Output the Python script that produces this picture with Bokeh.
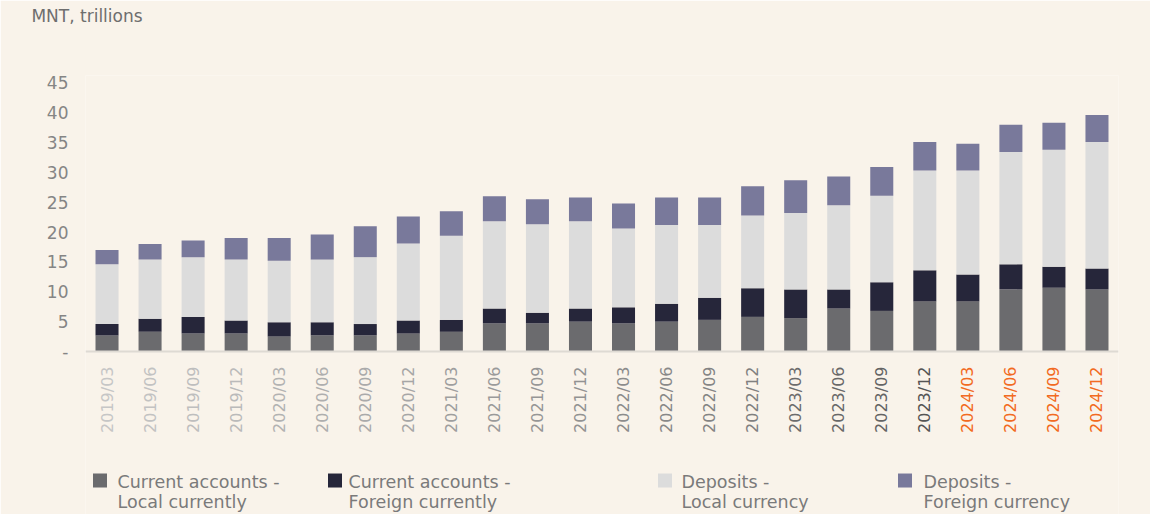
from bokeh.plotting import figure
from bokeh.models import Range1d, FixedTicker, Span, ColumnDataSource, LinearAxis
from bokeh.core.properties import value
from bokeh.embed import file_html
from bokeh.resources import INLINE
import math

periods = ["2019/03", "2019/06", "2019/09", "2019/12",
           "2020/03", "2020/06", "2020/09", "2020/12",
           "2021/03", "2021/06", "2021/09", "2021/12",
           "2022/03", "2022/06", "2022/09", "2022/12",
           "2023/03", "2023/06", "2023/09", "2023/12",
           "2024/03", "2024/06", "2024/09", "2024/12"]

current_local = [2.7, 3.3, 3.0, 3.0, 2.5, 2.7, 2.7, 3.0, 3.3, 4.7, 4.7, 5.0,
                 4.7, 5.0, 5.3, 5.8, 5.6, 7.2, 6.8, 8.4, 8.4, 10.4, 10.7, 10.4]
current_foreign = [1.9, 2.2, 2.8, 2.2, 2.4, 2.2, 1.9, 2.2, 2.0, 2.5, 1.8, 2.2,
                   2.7, 3.0, 3.7, 4.8, 4.8, 3.2, 4.8, 5.2, 4.5, 4.2, 3.5, 3.5]
deposits_local = [10.0, 9.9, 10.0, 10.2, 10.3, 10.5, 11.2, 12.9, 14.1, 14.6, 14.8, 14.6,
                  13.2, 13.2, 12.2, 12.2, 12.8, 14.1, 14.5, 16.7, 17.4, 18.8, 19.6, 21.2]
deposits_foreign = [2.4, 2.6, 2.8, 3.6, 3.8, 4.2, 5.2, 4.5, 4.1, 4.2, 4.2, 4.0,
                    4.2, 4.6, 4.6, 4.9, 5.5, 4.8, 4.8, 4.8, 4.5, 4.6, 4.5, 4.5]

label_colors = ["#c6c6c6", "#c2c2c2", "#bebebe", "#bababa",
                "#b2b2b2", "#aeaeae", "#aaaaaa", "#a6a6a6",
                "#9e9e9e", "#9a9a9a", "#969696", "#929292",
                "#8c8c8c", "#888888", "#848484", "#808080",
                "#6c6c6c", "#686868", "#646464", "#555555",
                "#f26a21", "#f26a21", "#f26a21", "#f26a21"]

series_names = ["current_local", "current_foreign", "deposits_local", "deposits_foreign"]
series_colors = ["#6b6b6e", "#26263a", "#dcdcdc", "#79799b"]
legend_line1 = ["Current accounts -", "Current accounts -", "Deposits -", "Deposits -"]
legend_line2 = ["Local currently", "Foreign currently", "Local currency", "Foreign currency"]
unit_title = "MNT, trillions"

BG = "#f9f3ea"
FONT = "DejaVu Sans"

# layout geometry (page pixels) -> used only to place legend / title
FRAME_L, FRAME_R, ZERO_Y, PX_PER_UNIT = 86.0, 1119.0, 352.0, 5.97
CAT_W = (FRAME_R - FRAME_L) / len(periods)


def fx(px):
    return (px - FRAME_L) / CAT_W - 0.5


def fy(py):
    return (ZERO_Y - py) / PX_PER_UNIT


xi = list(range(len(periods)))
src = ColumnDataSource(dict(xi=xi, period=periods, current_local=current_local,
                            current_foreign=current_foreign, deposits_local=deposits_local,
                            deposits_foreign=deposits_foreign, lcolor=label_colors))

p = figure(width=1150, height=514, x_range=Range1d(-0.5, len(periods) - 0.5),
           y_range=Range1d(-27.30, 46.23),
           output_backend="svg", toolbar_location=None,
           min_border_left=85, min_border_right=32, min_border_top=75, min_border_bottom=0,
           background_fill_color=BG, border_fill_color=BG, outline_line_color=None)

p.vbar_stack(series_names, x="xi", width=0.535, color=series_colors, source=src,
             line_color=None)

p.xaxis.visible = False
p.grid.visible = False
p.yaxis.ticker = FixedTicker(ticks=list(range(0, 50, 5)))
p.yaxis.major_label_overrides = {0: "-"}
p.yaxis.axis_line_color = None
p.yaxis.major_tick_line_color = None
p.yaxis.minor_tick_line_color = None
p.yaxis.major_label_standoff = 11
p.yaxis.major_label_text_font = FONT
p.yaxis.major_label_text_font_size = "17px"
p.yaxis.major_label_text_color = "#858585"

# unit title as a one-tick axis above the frame
title_x = fx(32 + 55.5)
top_axis = LinearAxis(ticker=FixedTicker(ticks=[title_x]),
                      major_label_overrides={title_x: unit_title},
                      axis_line_color=None, major_tick_line_color=None,
                      minor_tick_line_color=None, major_label_standoff=44,
                      major_label_text_font=FONT, major_label_text_font_size="17px",
                      major_label_text_color="#6e6e6e")
p.add_layout(top_axis, "above")

p.add_layout(Span(location=0, dimension="width", line_color="#dedad3", line_width=2))

p.text(x="xi", y=0, text="period", source=src, angle=math.pi / 2, y_offset=15,
       text_align="right", text_baseline="middle", text_font=value(FONT),
       text_font_size="16px", text_color="lcolor")

# legend
sq_x = [fx(v) for v in (100.5, 335.5, 665.5, 905.5)]
tx_x = [fx(v) for v in (118, 349, 682, 924)]
p.rect(x=sq_x, y=[fy(481)] * 4, width=14, height=14, width_units="screen",
       height_units="screen", color=series_colors, line_color=None)
p.text(x=tx_x, y=[fy(482)] * 4, text=legend_line1, text_font=value(FONT), text_font_size="17.5px",
       text_color="#7a7a7a", text_baseline="middle", text_align="left")
p.text(x=tx_x, y=[fy(502)] * 4, text=legend_line2, text_font=value(FONT), text_font_size="17.5px",
       text_color="#7a7a7a", text_baseline="middle", text_align="left")

open("out.html", "w").write(file_html(p, INLINE))
